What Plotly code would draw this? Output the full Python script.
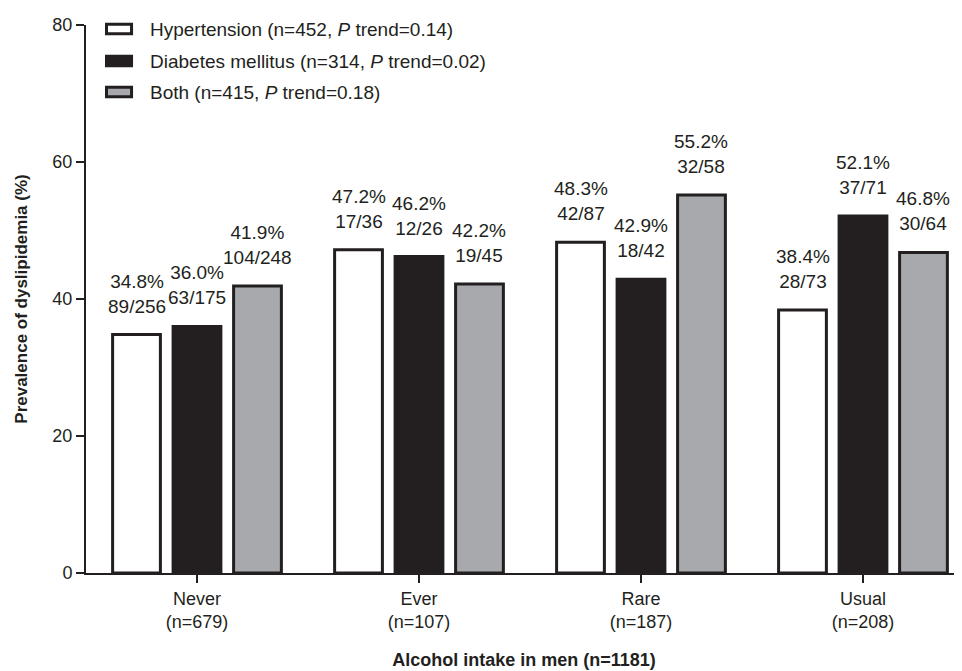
import plotly.graph_objects as go

categories = ["Never<br>(n=679)", "Ever<br>(n=107)", "Rare<br>(n=187)", "Usual<br>(n=208)"]
series_names = [
    "Hypertension (n=452, <i>P</i> trend=0.14)",
    "Diabetes mellitus (n=314, <i>P</i> trend=0.02)",
    "Both (n=415, <i>P</i> trend=0.18)",
]
hypertension = [34.8, 47.2, 48.3, 38.4]
diabetes = [36.0, 46.2, 42.9, 52.1]
both = [41.9, 42.2, 55.2, 46.8]
hypertension_counts = ["89/256", "17/36", "42/87", "28/73"]
diabetes_counts = ["63/175", "12/26", "18/42", "37/71"]
both_counts = ["104/248", "19/45", "32/58", "30/64"]

values = [hypertension, diabetes, both]
counts = [hypertension_counts, diabetes_counts, both_counts]
fills = ["#ffffff", "#231f20", "#a7a9ac"]
dark = "#231f20"
FONT = "Liberation Sans, Arial, sans-serif"

BARGAP = 0.1825
BARGROUPGAP = 0.21

fig = go.Figure()
for name, vals, fill in zip(series_names, values, fills):
    fig.add_trace(go.Bar(
        x=categories, y=vals, name=name, showlegend=False,
        marker=dict(color=fill, line=dict(color=dark, width=3)),
    ))

slot = (1 - BARGAP) / 3
annotations = []
for j, (vals, cnts) in enumerate(zip(values, counts)):
    for i, (v, c) in enumerate(zip(vals, cnts)):
        annotations.append(dict(
            x=i + (j - 1) * slot, y=v, xref="x", yref="y",
            text=f"{v:.1f}%<br>{c}", showarrow=False,
            yanchor="bottom", xanchor="center", yshift=16,
            font=dict(family=FONT, size=19, color=dark),
        ))

# manual legend (wide rectangular swatches as in the original)
legend_rows_y = [0.9927, 0.9343, 0.8777]
shapes = []
for name, fill, yc in zip(series_names, fills, legend_rows_y):
    shapes.append(dict(
        type="rect", xref="paper", yref="paper",
        x0=0.0234, x1=0.052, y0=yc - 0.0085, y1=yc + 0.0085,
        fillcolor=fill, line=dict(color=dark, width=3),
    ))
    annotations.append(dict(
        x=0.0708, y=yc, xref="paper", yref="paper",
        text=name, showarrow=False, xanchor="left", yanchor="middle",
        font=dict(family=FONT, size=19, color=dark),
    ))

fig.update_layout(
    width=962, height=671,
    margin=dict(l=78, r=8, t=17, b=106),
    paper_bgcolor="white", plot_bgcolor="white",
    barmode="group", bargap=BARGAP, bargroupgap=BARGROUPGAP,
    font=dict(family=FONT, size=18, color=dark),
    annotations=annotations, shapes=shapes,
    showlegend=False,
)
fig.update_xaxes(
    range=[-0.5, 3.446], showline=True, linecolor=dark, linewidth=2,
    ticks="outside", ticklen=8, tickwidth=2, tickcolor=dark,
    showgrid=False, zeroline=False,
    tickfont=dict(family=FONT, size=18, color=dark),
    title=dict(text="<b>Alcohol intake in men (n=1181)</b>",
               font=dict(family=FONT, size=18, color=dark), standoff=22),
)
fig.update_yaxes(
    range=[0, 80], tickvals=[0, 20, 40, 60, 80], showline=True,
    linecolor=dark, linewidth=2, ticks="outside", ticklen=8, tickwidth=2,
    tickcolor=dark, showgrid=False, zeroline=False,
    tickfont=dict(family=FONT, size=18, color=dark),
    title=dict(text="<b>Prevalence of dyslipidemia (%)</b>",
               font=dict(family=FONT, size=17, color=dark), standoff=20),
)

fig.write_html("out.html")
